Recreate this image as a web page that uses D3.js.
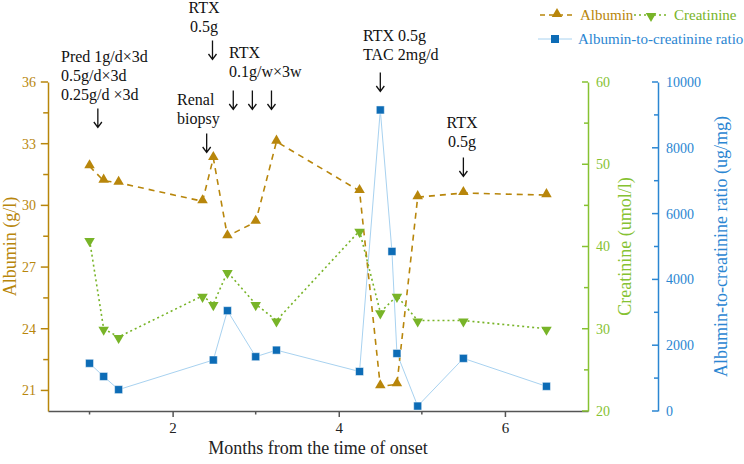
<!DOCTYPE html>
<html>
<head>
<meta charset="utf-8">
<script src="https://cdn.jsdelivr.net/npm/d3@7"></script>
<style>
  body { margin: 0; background: #fff; }
  svg text { font-family: "Liberation Serif", "Times New Roman", serif; }
</style>
</head>
<body>
<div id="chart"></div>
<script>
// Albumin / creatinine / ratio over time, three y axes sharing one x axis

const months = [1.0, 1.17, 1.35, 2.36, 2.49, 2.66, 3.0, 3.25, 4.25, 4.5, 4.7, 4.95, 5.5, 6.5];
const albumin = [31.9, 31.2, 31.1, 30.2, 32.3, 28.5, 29.2, 33.1, 30.7, 21.2, 21.3, 30.4, 30.6, 30.5];
const creatinine = [40.8, 30, 29, 34, 33, 36.9, 33, 31, 41.9, 32, 34, 31, 31, 30];

const ratioMonths = [1.0, 1.17, 1.35, 2.49, 2.66, 3.0, 3.25, 4.25, 4.5, 4.64, 4.7, 4.95, 5.5, 6.5];
const ratio = [1450, 1050, 650, 1550, 3050, 1650, 1850, 1200, 9150, 4850, 1750, 150, 1600, 750];

const xTicks = [2, 4, 6];
const albuminTicks = [21, 24, 27, 30, 33, 36];
const creatinineTicks = [20, 30, 40, 50, 60];
const ratioTicks = [0, 2000, 4000, 6000, 8000, 10000];

// treatment notes: month of the arrow, text lines
const notes = [
  { month: 1.1, lines: ["Pred 1g/d\u00d73d", "0.5g/d\u00d73d", "0.25g/d \u00d73d"], tx: 61, ty: 62, anchor: "start", ay: 118 },
  { month: 2.48, lines: ["RTX", "0.5g"], tx: 204, ty: 13, anchor: "middle", ay: 50 },
  { month: 2.41, lines: ["Renal", "biopsy"], tx: 177, ty: 105, anchor: "start", ay: 143 },
  { month: 2.73, lines: ["RTX", "0.1g/w\u00d73w"], tx: 229, ty: 58, anchor: "start", ay: null },
  { month: 4.5, lines: ["RTX 0.5g", "TAC 2mg/d"], tx: 363, ty: 41, anchor: "start", ay: 82 },
  { month: 5.5, lines: ["RTX", "0.5g"], tx: 462, ty: 128, anchor: "middle", ay: 167 }
];
const weeklyArrows = [2.73, 2.96, 3.19];

const width = 744, height = 464;
const margin = { top: 82, right: 156, bottom: 53, left: 48 };
const serif = "Liberation Serif, Times New Roman, serif";

const colors = {
  albumin: "#b8860b",
  creatinine: "#78b428",
  creatinineAxis: "#86c232",
  ratio: "#0d6cb6",
  ratioAxis: "#2b86d2",
  ratioLine: "#a8d2f0",
  axis: "#555"
};

const svg = d3.select("#chart")
  .append("svg")
  .attr("width", width)
  .attr("height", height)
  .attr("font-family", serif);

const x = d3.scaleLinear()
  .domain([0.5, 7])
  .range([margin.left, width - margin.right]);

const yAlb = d3.scaleLinear().domain([20, 36]).range([height - margin.bottom, margin.top]);
const yCre = d3.scaleLinear().domain([20, 60]).range([height - margin.bottom, margin.top]);
const yRat = d3.scaleLinear().domain([0, 10000]).range([height - margin.bottom, margin.top]);

const x0 = margin.left, x1 = width - margin.right;
const xBlue = 658;
const yBottom = height - margin.bottom;
const yMid = (margin.top + yBottom) / 2;

// shared axis styling
function styleAxis(g, axisGen, color) {
  g.call(axisGen)
    .attr("font-family", serif);
  g.select(".domain").attr("stroke", color).attr("stroke-width", 1.5);
  g.selectAll(".tick line").attr("stroke", color).attr("stroke-width", 1.5);
  g.selectAll(".tick text").attr("fill", color).attr("font-size", 14);
  return g;
}

// minor/major tick marks drawn by hand on the inner side
function sideTicks(g, scale, values, isMajor, color, dir) {
  g.append("g").selectAll("line")
    .data(values)
    .enter().append("line")
    .attr("x1", d => dir * (isMajor(d) ? 6 : 4)).attr("x2", 0)
    .attr("y1", d => scale(d)).attr("y2", d => scale(d))
    .attr("stroke", color).attr("stroke-width", 1.5);
}

// x axis
const xAxis = svg.append("g")
  .attr("transform", `translate(0,${yBottom})`);
styleAxis(xAxis, d3.axisBottom(x).tickValues(xTicks).tickSize(6).tickSizeOuter(0).tickPadding(5).tickFormat(d3.format("d")), colors.axis);
xAxis.selectAll(".tick text").attr("fill", "#222").attr("font-size", 15);
xAxis.append("g").selectAll("line")
  .data([1, 3, 5])
  .enter().append("line")
  .attr("x1", d => x(d)).attr("x2", d => x(d))
  .attr("y1", 0).attr("y2", 3.5)
  .attr("stroke", colors.axis).attr("stroke-width", 1.5);

svg.append("text")
  .attr("x", (x0 + x1) / 2)
  .attr("y", 454)
  .attr("text-anchor", "middle")
  .attr("font-size", 18)
  .attr("fill", "#222")
  .text("Months from the time of onset");

// left axis (albumin)
const gAlb = svg.append("g").attr("transform", `translate(${x0},0)`);
styleAxis(gAlb, d3.axisLeft(yAlb).tickValues(albuminTicks).tickSize(0).tickSizeOuter(0).tickPadding(12), colors.albumin);
sideTicks(gAlb, yAlb, d3.range(21, 36.1, 1.5), d => (d - 21) % 3 === 0, colors.albumin, -1.2);

svg.append("text")
  .attr("transform", `translate(16,${yMid}) rotate(-90)`)
  .attr("text-anchor", "middle")
  .attr("font-size", 18)
  .attr("fill", colors.albumin)
  .text("Albumin (g/l)");

// right axis 1 (creatinine)
const gCre = svg.append("g").attr("transform", `translate(${x1},0)`);
styleAxis(gCre, d3.axisRight(yCre).tickValues(creatinineTicks).tickSize(0).tickSizeOuter(0).tickPadding(8), colors.creatinineAxis);
sideTicks(gCre, yCre, d3.range(20, 61, 5), d => d % 10 === 0, colors.creatinineAxis, -1);

svg.append("text")
  .attr("transform", `translate(631,${yMid}) rotate(-90)`)
  .attr("text-anchor", "middle")
  .attr("font-size", 18)
  .attr("fill", colors.creatinineAxis)
  .text("Creatinine (umol/l)");

// right axis 2 (ratio)
const gRat = svg.append("g").attr("transform", `translate(${xBlue},0)`);
styleAxis(gRat, d3.axisRight(yRat).tickValues(ratioTicks).tickSize(0).tickSizeOuter(0).tickPadding(8).tickFormat(d3.format("d")), colors.ratioAxis);
sideTicks(gRat, yRat, d3.range(0, 10001, 1000), d => d % 2000 === 0, colors.ratioAxis, -1);

svg.append("text")
  .attr("transform", `translate(727,${yMid}) rotate(-90)`)
  .attr("text-anchor", "middle")
  .attr("font-size", 18)
  .attr("fill", colors.ratioAxis)
  .text("Albumin-to-creatinine ratio (ug/mg)");

// series
const triangle = d3.symbol().type(d3.symbolTriangle).size(48);
const square = d3.symbol().type(d3.symbolSquare).size(64);

const albData = months.map((m, i) => ({ m, v: albumin[i] }));
const creData = months.map((m, i) => ({ m, v: creatinine[i] }));
const ratData = ratioMonths.map((m, i) => ({ m, v: ratio[i] }));

svg.append("path")
  .datum(ratData)
  .attr("fill", "none")
  .attr("stroke", colors.ratioLine)
  .attr("stroke-width", 1)
  .attr("d", d3.line().x(d => x(d.m)).y(d => yRat(d.v)));

svg.append("path")
  .datum(albData)
  .attr("fill", "none")
  .attr("stroke", colors.albumin)
  .attr("stroke-width", 1.6)
  .attr("stroke-dasharray", "6,5")
  .attr("d", d3.line().x(d => x(d.m)).y(d => yAlb(d.v)));

svg.append("path")
  .datum(creData)
  .attr("fill", "none")
  .attr("stroke", colors.creatinine)
  .attr("stroke-width", 1.6)
  .attr("stroke-dasharray", "2,3")
  .attr("d", d3.line().x(d => x(d.m)).y(d => yCre(d.v)));

svg.append("g").selectAll("path")
  .data(ratData)
  .enter().append("path")
  .attr("d", square)
  .attr("transform", d => `translate(${x(d.m)},${yRat(d.v)})`)
  .attr("fill", colors.ratio)
  .attr("stroke", "#fff")
  .attr("stroke-width", 0.5);

svg.append("g").selectAll("path")
  .data(albData)
  .enter().append("path")
  .attr("d", triangle)
  .attr("transform", d => `translate(${x(d.m)},${yAlb(d.v) - 1})`)
  .attr("fill", colors.albumin);

svg.append("g").selectAll("path")
  .data(creData)
  .enter().append("path")
  .attr("d", triangle)
  .attr("transform", d => `translate(${x(d.m)},${yCre(d.v) + 1}) rotate(180)`)
  .attr("fill", colors.creatinine);

// annotations
const noteG = svg.append("g").attr("fill", "#111").attr("font-size", 16);

function arrow(cx, cy) {
  // thin down arrow, about 19px tall
  noteG.append("path")
    .attr("d", `M${cx},${cy - 9.5}V${cy + 9.5}M${cx - 4},${cy + 4}L${cx},${cy + 9.5}L${cx + 4},${cy + 4}`)
    .attr("fill", "none")
    .attr("stroke", "#111")
    .attr("stroke-width", 1.3);
}

notes.forEach(n => {
  n.lines.forEach((line, i) => {
    noteG.append("text")
      .attr("x", n.tx)
      .attr("y", n.ty + i * 19)
      .attr("text-anchor", n.anchor)
      .text(line);
  });
  if (n.ay !== null) arrow(x(n.month), n.ay);
});
weeklyArrows.forEach(m => arrow(x(m), 100));

// legend
const legend = svg.append("g").attr("font-size", 15);
const legendItems = [
  { label: "Albumin", color: colors.albumin, lx: 540, ly: 15, dash: "5,4", line: colors.albumin, sym: "up" },
  { label: "Creatinine", color: colors.creatinine, lx: 634, ly: 15, dash: "2,3", line: colors.creatinine, sym: "down" },
  { label: "Albumin-to-creatinine ratio", color: colors.ratioAxis, lx: 538, ly: 39, dash: null, line: colors.ratioLine, sym: "sq" }
];
legendItems.forEach(it => {
  legend.append("line")
    .attr("x1", it.lx).attr("x2", it.lx + 34)
    .attr("y1", it.ly).attr("y2", it.ly)
    .attr("stroke", it.line)
    .attr("stroke-width", it.dash ? 1.6 : 1)
    .attr("stroke-dasharray", it.dash);
  const shape = it.sym === "sq" ? square : triangle;
  const dy = it.sym === "up" ? -1 : it.sym === "down" ? 1 : 0;
  legend.append("path")
    .attr("d", shape)
    .attr("transform", `translate(${it.lx + 17},${it.ly + dy})${it.sym === "down" ? " rotate(180)" : ""}`)
    .attr("fill", it.sym === "sq" ? colors.ratio : it.color);
  legend.append("text")
    .attr("x", it.lx + 40)
    .attr("y", it.ly + 5)
    .attr("fill", it.color)
    .text(it.label);
});
</script>
</body>
</html>
